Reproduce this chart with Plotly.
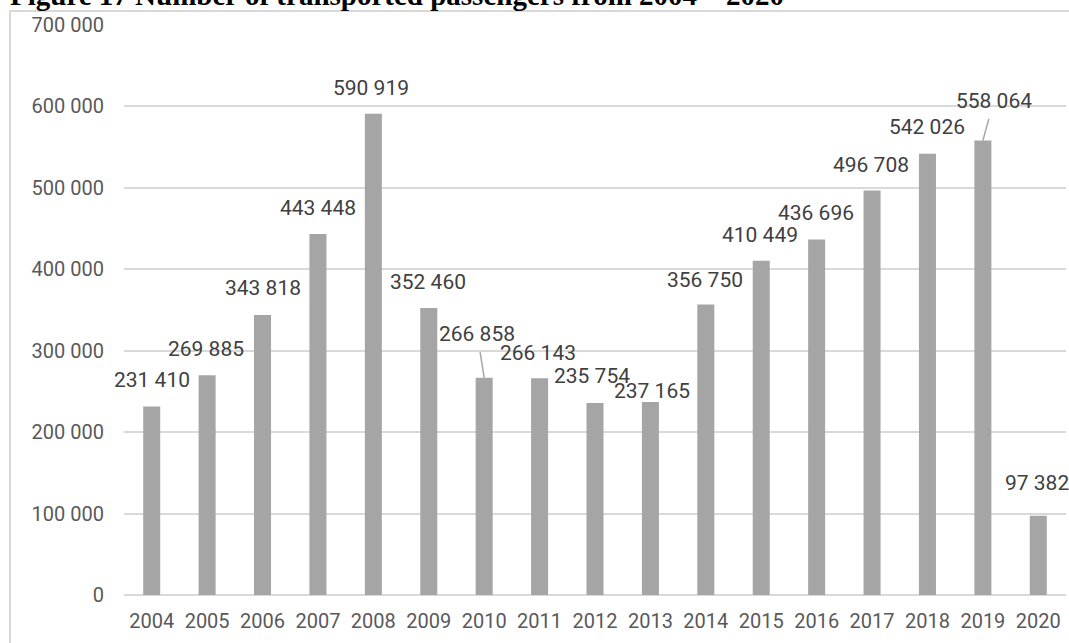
import plotly.graph_objects as go

# Yearly passenger counts
years = ["2004", "2005", "2006", "2007", "2008", "2009", "2010", "2011", "2012",
         "2013", "2014", "2015", "2016", "2017", "2018", "2019", "2020"]
passengers = [231410, 269885, 343818, 443448, 590919, 352460, 266858, 266143, 235754,
              237165, 356750, 410449, 436696, 496708, 542026, 558064, 97382]

y_ticks = [0, 100000, 200000, 300000, 400000, 500000, 600000, 700000]
y_tick_text = ["0", "100 000", "200 000", "300 000", "400 000", "500 000", "600 000", "700 000"]

title_text = "Figure 17 Number of transported passengers from 2004 – 2020"

# Label placement (pixel offsets of each label centre from its bar top)
label_dx = [0, -1, 0, 0, -2, -1, -7, -2, -3, 2, -1, -1, -1, -1, 0, 11, -1]
label_dy = [27, 26, 27, 26, 26, 26, 44, 25, 27, 11, 25, 26, 26, 26, 27, 40, 33]
leader = [False] * 17
leader[6] = True
leader[15] = True

W, H = 1069, 643
L, R, T, B = 124, 3, 25, 48
pw, ph = W - L - R, H - T - B


def px_to_paper_x(px):
    return (px - L) / pw


def px_to_paper_y(py):
    return (H - B - py) / ph


def fmt(v):
    return f"{v:,}".replace(",", " ")


fig = go.Figure(go.Bar(
    x=years, y=passengers,
    marker=dict(color="#a5a5a5", line=dict(width=0)),
))

label_font = dict(family="Roboto", size=21, color="#404040")
annotations = []
for i, (v, dx, dy, lead) in enumerate(zip(passengers, label_dx, label_dy, leader)):
    if lead:
        annotations.append(dict(
            x=i, y=v, xref="x", yref="y", text=fmt(v), font=label_font,
            showarrow=True, arrowhead=0, arrowwidth=1.5, arrowcolor="#a6a6a6",
            ax=dx, ay=-dy, startstandoff=5, standoff=0,
        ))
    else:
        annotations.append(dict(
            x=i, y=v, xref="x", yref="y", text=fmt(v), font=label_font,
            showarrow=False, xshift=dx, yshift=dy, yanchor="middle", xanchor="center",
        ))

annotations.append(dict(
    text="<b>" + title_text + "</b>", xref="paper", yref="paper",
    x=px_to_paper_x(8), y=px_to_paper_y(-5), xanchor="left", yanchor="middle",
    showarrow=False, font=dict(family="Liberation Serif", size=29, color="#000000"),
))

fig.update_layout(
    width=W, height=H,
    margin=dict(l=L, r=R, t=T, b=B, pad=0),
    paper_bgcolor="white", plot_bgcolor="white",
    bargap=0.693,
    showlegend=False,
    annotations=annotations,
    shapes=[dict(
        type="rect", xref="paper", yref="paper", layer="below",
        x0=px_to_paper_x(10), x1=px_to_paper_x(1080),
        y0=px_to_paper_y(660), y1=px_to_paper_y(11),
        line=dict(color="#d9d9d9", width=2), fillcolor="rgba(0,0,0,0)",
    )],
    xaxis=dict(
        type="category", range=[-0.5, len(years) - 0.5], autorange=False,
        showgrid=False, showline=False, ticks="",
        tickfont=dict(family="Roboto", size=20, color="#595959"),
        ticklabelstandoff=12,
    ),
    yaxis=dict(
        range=[0, 700000], autorange=False, tickvals=y_ticks, ticktext=y_tick_text,
        showgrid=True, gridcolor="#d9d9d9", gridwidth=2,
        zeroline=True, zerolinecolor="#d9d9d9", zerolinewidth=2,
        showline=False, ticks="",
        tickfont=dict(family="Roboto", size=20, color="#595959"),
        ticklabelstandoff=19,
    ),
    font=dict(family="Roboto"),
)

fig.write_html("out.html")
